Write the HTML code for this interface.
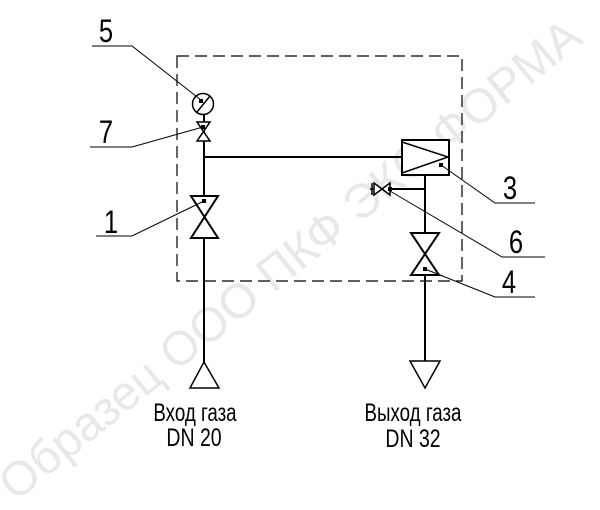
<!DOCTYPE html>
<html><head><meta charset="utf-8"><style>html,body{margin:0;padding:0;background:#fff}svg{display:block}</style></head>
<body>
<svg width="600" height="510" viewBox="0 0 600 510" xmlns="http://www.w3.org/2000/svg" font-family="Liberation Sans, DejaVu Sans, sans-serif">
<text x="300" y="272" transform="rotate(-39 300 272)" text-anchor="middle" font-size="48" fill="#e8e8e8">Образец ООО ПКФ ЭКС-ФОРМА</text>
<g stroke="#000" fill="none" stroke-width="1.5">
<rect x="177" y="56" width="285" height="225" stroke-width="1.2" stroke-dasharray="12,6"/>
<line x1="204" y1="115" x2="204" y2="362" stroke-width="2"/>
<line x1="204" y1="157" x2="402" y2="157" stroke-width="2"/>
<circle cx="203" cy="104" r="10.5" fill="#fff"/>
<line x1="197" y1="112" x2="210" y2="96"/>
<path d="M197,122 L210,122 L197,141 L210,141 Z" fill="#fff"/>
<path d="M191,196 L218,196 L191,238 L218,238 Z" fill="#fff" stroke-width="2"/>
<path d="M204,362 L219,388 L190,388 Z" fill="#fff"/>
<rect x="402" y="140" width="47" height="35" fill="#fff" stroke-width="2"/>
<path d="M402,142 L448,157 L402,173"/>
<line x1="425" y1="175" x2="425" y2="361" stroke-width="2"/>
<line x1="390" y1="189" x2="425" y2="189" stroke-width="2"/>
<path d="M374,183 L390,195 L390,183 L374,195 Z" fill="#fff"/>
<line x1="370" y1="189" x2="374" y2="189"/>
<line x1="372" y1="183" x2="372" y2="195"/>
<path d="M411,233 L439,233 L411,275 L439,275 Z" fill="#fff" stroke-width="2"/>
<path d="M410,361 L440,361 L425,388 Z" fill="#fff"/>
<g stroke-width="1">
<polyline points="92,46 132,46 201,100"/>
<polyline points="90,147 132,147 203,127"/>
<polyline points="96,236 132,236 204,201"/>
<polyline points="441,165 495,203 535,203"/>
<polyline points="390,191 502,257 545,257"/>
<polyline points="425,269 495,297 535,297"/>
</g>
</g>
<g fill="#000">
<rect x="199" y="99" width="4" height="4"/><rect x="201" y="125" width="4" height="4"/>
<rect x="202" y="199" width="4" height="4"/><rect x="439" y="163" width="4" height="4"/>
<rect x="388" y="187" width="4" height="4"/><rect x="423" y="267" width="4" height="4"/>
</g>
<g font-size="32" fill="#000" text-anchor="middle">
<text transform="translate(106 42) scale(0.8 1)">5</text>
<text transform="translate(106 143) scale(0.8 1)">7</text>
<text transform="translate(111 233) scale(0.8 1)">1</text>
<text transform="translate(510 199) scale(0.8 1)">3</text>
<text transform="translate(516 253) scale(0.8 1)">6</text>
<text transform="translate(509 293) scale(0.8 1)">4</text>
</g>
<g font-size="25" fill="#000" text-anchor="middle">
<text transform="translate(195 421) scale(0.75 1)">Вход газа</text>
<text transform="translate(194 446) scale(0.78 1)">DN 20</text>
<text transform="translate(413 421) scale(0.75 1)">Выход газа</text>
<text transform="translate(413 447) scale(0.78 1)">DN 32</text>
</g>
</svg>
</body></html>
